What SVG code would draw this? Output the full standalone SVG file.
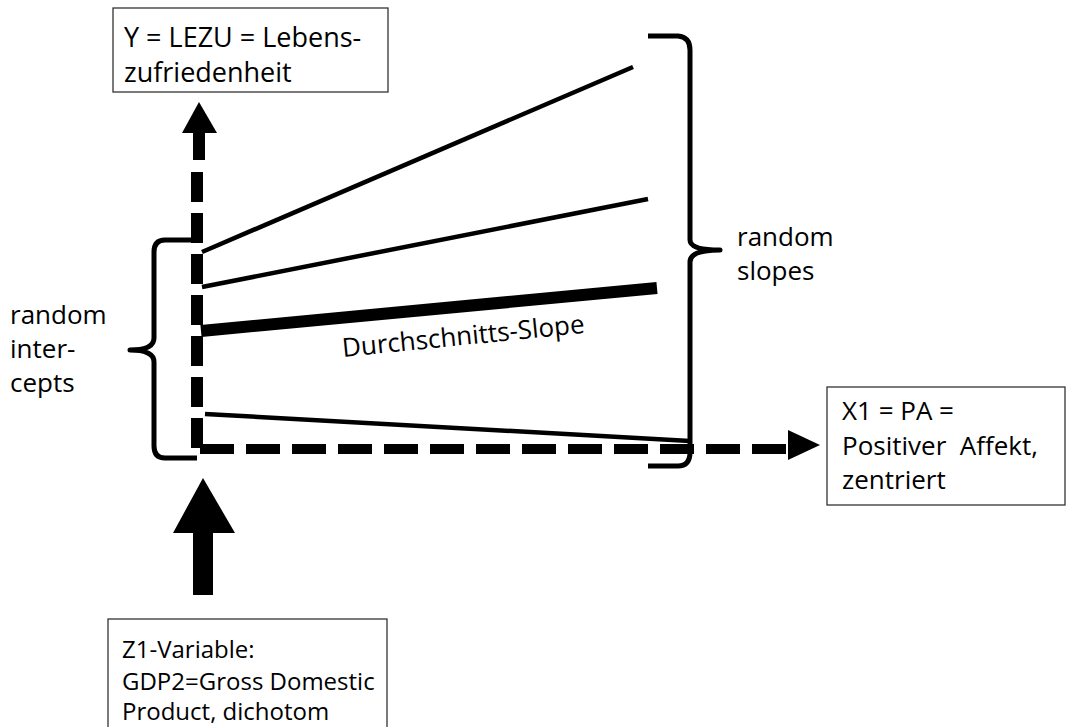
<svg xmlns="http://www.w3.org/2000/svg" width="1067" height="727" viewBox="0 0 1067 727">
<style>
text{font-family:"Open Sans","Liberation Sans",sans-serif;fill:#000}
.t27{font-size:27px}
.t26{font-size:26px}
.t24{font-size:24px}
.ts{font-size:26px}
.box{fill:#fff;stroke:#333;stroke-width:1.3}
.brace{fill:none;stroke:#000;stroke-width:5;stroke-linejoin:round}
.ln{stroke:#000;stroke-width:4.5;stroke-linecap:butt}
</style>
<rect width="1067" height="727" fill="#fff"/>
<g id="connectors">
  <polygon points="199,102 217,133 182,133" fill="#000"/>
  <rect x="193" y="133" width="12" height="27" fill="#000"/>
  <line x1="197" y1="172" x2="197" y2="448" stroke="#000" stroke-width="12" stroke-dasharray="30 11"/>
  <line x1="200" y1="449" x2="786" y2="449" stroke="#000" stroke-width="10" stroke-dasharray="34 12"/>
  <polygon points="820,445 788,430 788,460" fill="#000"/>
  <polygon points="203,478 235,533 213,533 213,595 193,595 193,533 173,533" fill="#000"/>
  <line class="ln" x1="202" y1="252" x2="633" y2="67"/>
  <line class="ln" x1="202" y1="287" x2="648" y2="199"/>
  <line x1="201" y1="331" x2="657" y2="288" stroke="#000" stroke-width="12"/>
  <line class="ln" x1="205" y1="414" x2="690" y2="441"/>
  <path class="brace" d="M197,240 H165 Q154,240 154,252 V338 Q154,350 130,350 Q154,350 154,362 V446 Q154,458 165,458 H197"/>
  <path class="brace" d="M648,36 H678 Q690,37 690,50 V240 Q690,250 720,250 Q690,250 690,262 V452 Q690,466 678,466 H648"/>
</g>
<g id="label-slope">
  <text class="ts" x="343" y="357" transform="rotate(-5.7 343 357)">Durchschnitts-Slope</text>
</g>
<g id="node-y">
  <rect class="box" x="113" y="8" width="275" height="84"/>
  <text class="t27" x="124" y="47">Y = LEZU = Lebens-</text>
  <text class="t27" x="124" y="82">zufriedenheit</text>
</g>
<g id="node-x1">
  <rect class="box" x="827" y="387" width="238" height="118"/>
  <text class="t26" x="842" y="420">X1 = PA =</text>
  <text class="t26" x="842" y="455" xml:space="preserve">Positiver  Affekt,</text>
  <text class="t26" x="842" y="489">zentriert</text>
</g>
<g id="node-z1">
  <rect class="box" x="108" y="619" width="279" height="120"/>
  <text class="t24" x="122" y="658">Z1-Variable:</text>
  <text class="t24" x="122" y="690">GDP2=Gross Domestic</text>
  <text class="t24" x="122" y="720">Product, dichotom</text>
</g>
<g id="label-intercepts">
  <text class="t26" x="10" y="324">random</text>
  <text class="t26" x="10" y="358">inter-</text>
  <text class="t26" x="10" y="392">cepts</text>
</g>
<g id="label-slopes">
  <text class="t26" x="737" y="246">random</text>
  <text class="t26" x="737" y="280">slopes</text>
</g>
</svg>
